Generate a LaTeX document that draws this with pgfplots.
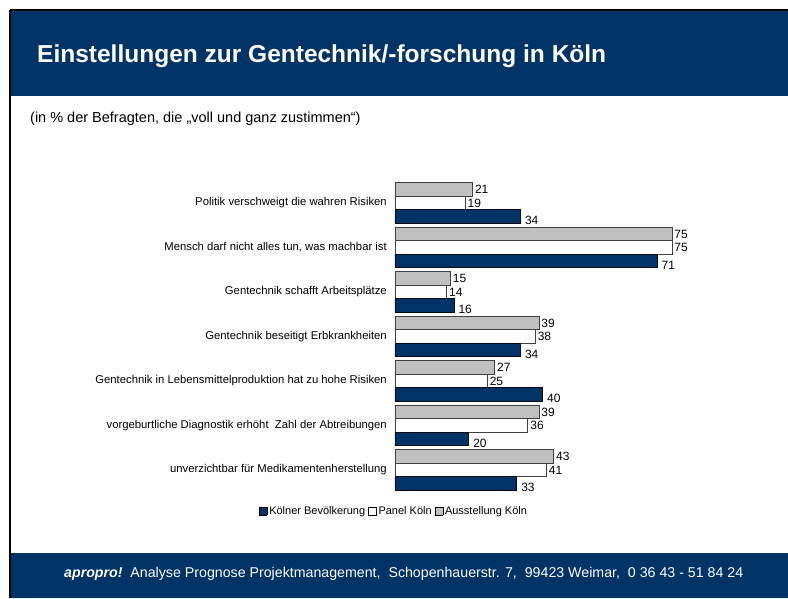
\documentclass[border=0pt]{standalone}
\usepackage{fontspec}
\setmainfont{Liberation Sans}
\usepackage{pgfplots}
\pgfplotsset{compat=1.18}
\definecolor{apblue}{HTML}{003366}
\definecolor{apgrey}{HTML}{C0C0C0}
\definecolor{apedge}{HTML}{404040}

% idx: 0 = top row
\pgfplotstableread{
idx bev panel ausst
0 34 19 21
1 71 75 75
2 16 14 15
3 34 38 39
4 40 25 27
5 20 36 39
6 33 41 43
}\gentab

\newcommand{\legbox}[1]{{\setlength{\fboxsep}{0pt}\setlength{\fboxrule}{0.7pt}\fcolorbox{black}{#1}{\rule{0pt}{7pt}\rule{7pt}{0pt}}}}

\begin{document}
\begin{tikzpicture}[x=1pt,y=1pt]
\useasboundingbox (0,0) rectangle (788,598);
% slide frame
\fill[apblue] (10,501.5) rectangle (788,588);
\fill[apblue] (10,0) rectangle (788,45);
\draw[black,line width=1.5pt] (10,588) -- (788,588);
\draw[black,line width=1.5pt] (10,588) -- (10,0);
\node[anchor=base west, inner sep=0pt, text=white,
  font=\bfseries\fontsize{24.5}{28}\selectfont] at (37,535)
  {Einstellungen zur Gentechnik/-forschung in Köln};
\node[anchor=base west, inner sep=0pt,
  font=\fontsize{14.5}{17}\selectfont] at (30,475)
  {(in \% der Befragten, die „voll und ganz zustimmen“)};
\node[anchor=base west, inner sep=0pt, text=white,
  font=\fontsize{14.2}{17}\selectfont] at (64,21)
  {{\bfseries\itshape apropro!}\ \ Analyse Prognose Projektmanagement,\ \ Schopenhauerstr. 7,\ \ 99423 Weimar,\ \ 0 36 43 - 51 84 24};

\begin{axis}[
  at={(395pt,105.75pt)}, anchor=south west,
  scale only axis, width=369.3pt, height=311.5pt,
  xbar, bar width=13.5pt,
  xmin=0, xmax=100, ymin=-0.5, ymax=6.5, y dir=reverse,
  hide x axis,
  y axis line style={draw=none},
  major tick length=0pt,
  ytick={0,1,2,3,4,5,6},
  yticklabels={Politik verschweigt die wahren Risiken,
    {Mensch darf nicht alles tun, was machbar ist},
    Gentechnik schafft Arbeitsplätze,
    Gentechnik beseitigt Erbkrankheiten,
    Gentechnik in Lebensmittelproduktion hat zu hohe Risiken,
    vorgeburtliche Diagnostik erhöht\ \ Zahl der Abtreibungen,
    unverzichtbar für Medikamentenherstellung},
  yticklabel style={font=\fontsize{11.3}{13}\selectfont, inner sep=0pt, xshift=-8pt},
  nodes near coords,
  nodes near coords style={font=\fontsize{12}{14}\selectfont, inner sep=2pt, text=black,
    /pgf/number format/assume math mode=true},
  clip=false,
]
\addplot[fill=apgrey, draw=apedge, line width=0.9pt, bar shift=13.5pt]
  table[x=ausst, y=idx] {\gentab};
\addplot[fill=white, draw=apedge, line width=0.9pt, bar shift=0pt]
  table[x=panel, y=idx] {\gentab};
\addplot[fill=apblue, draw=black!80!apblue, line width=0.9pt, bar shift=-13.5pt,
  nodes near coords style={xshift=2pt, yshift=-4pt}]
  table[x=bev, y=idx] {\gentab};
\end{axis}

\node[anchor=center, inner sep=0pt, font=\fontsize{11}{13}\selectfont] at (393,86)
  {\legbox{apblue}\,Kölner Bevölkerung \legbox{white}\,Panel Köln \legbox{apgrey}\,Ausstellung Köln};
\end{tikzpicture}
\end{document}
